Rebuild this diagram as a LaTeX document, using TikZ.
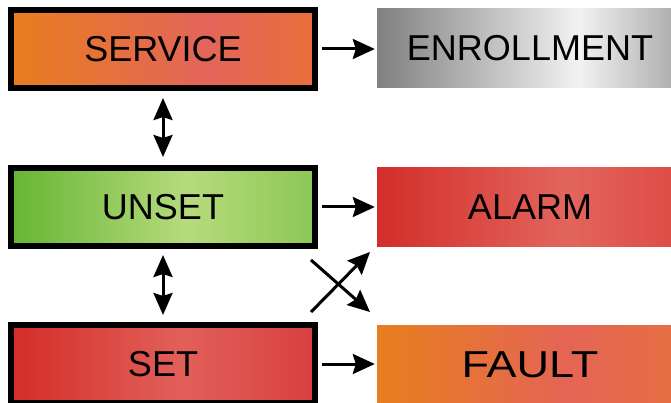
\documentclass[tikz,border=0pt]{standalone}
\usepackage{fontspec}
\setmainfont{Liberation Sans}
\usetikzlibrary{shapes,arrows,arrows.meta,positioning,calc}

\definecolor{svcA}{HTML}{E97D1F}
\definecolor{svcB}{HTML}{E3655A}
\definecolor{svcC}{HTML}{E8703A}
\definecolor{unsA}{HTML}{66B533}
\definecolor{unsB}{HTML}{B6DB7D}
\definecolor{unsC}{HTML}{8CC755}
\definecolor{setA}{HTML}{D42D28}
\definecolor{setB}{HTML}{E2605A}
\definecolor{setC}{HTML}{D8403F}
\definecolor{enrA}{HTML}{808080}
\definecolor{enrB}{HTML}{F2F2F2}
\definecolor{enrC}{HTML}{A8A8A8}
\definecolor{almA}{HTML}{D32E2B}
\definecolor{almB}{HTML}{E2655C}
\definecolor{almC}{HTML}{DD4A44}
\definecolor{fltA}{HTML}{E87E1E}
\definecolor{fltB}{HTML}{E46555}
\definecolor{fltC}{HTML}{E77041}

\pgfdeclarehorizontalshading{serviceshade}{100bp}{color(0bp)=(svcA); color(25bp)=(svcA); color(57bp)=(svcB); color(75bp)=(svcC); color(100bp)=(svcC)}
\pgfdeclarehorizontalshading{unsetshade}{100bp}{color(0bp)=(unsA); color(25bp)=(unsA); color(54bp)=(unsB); color(75bp)=(unsC); color(100bp)=(unsC)}
\pgfdeclarehorizontalshading{setshade}{100bp}{color(0bp)=(setA); color(25bp)=(setA); color(53bp)=(setB); color(75bp)=(setC); color(100bp)=(setC)}
\pgfdeclarehorizontalshading{enrollshade}{100bp}{color(0bp)=(enrA); color(25bp)=(enrA); color(58bp)=(enrB); color(75bp)=(enrC); color(100bp)=(enrC)}
\pgfdeclarehorizontalshading{alarmshade}{100bp}{color(0bp)=(almA); color(25bp)=(almA); color(56bp)=(almB); color(75bp)=(almC); color(100bp)=(almC)}
\pgfdeclarehorizontalshading{faultshade}{100bp}{color(0bp)=(fltA); color(25bp)=(fltA); color(56bp)=(fltB); color(75bp)=(fltC); color(100bp)=(fltC)}

\begin{document}
\begin{tikzpicture}[x=1pt, y=-1pt,
    statebox/.style={draw=black, line width=6pt, minimum width=304pt, minimum height=78pt, inner sep=0pt, font=\fontsize{36}{40}\selectfont},
    eventbox/.style={minimum width=306pt, minimum height=79pt, inner sep=0pt, font=\fontsize{36}{40}\selectfont},
    link/.style={line width=3pt, -{Stealth[length=22pt, width=20pt, inset=3pt]}},
    twoway/.style={line width=3pt, {Stealth[length=22pt, width=19pt, inset=3pt]}-{Stealth[length=22pt, width=19pt, inset=3pt]}}]
    \useasboundingbox (0,0) rectangle (671,403);
    \clip (0,0) rectangle (671,403);

    % States
    \node[statebox, shading=serviceshade] (service) at (163,49) {SERVICE};
    \node[statebox, shading=unsetshade] (unset) at (163,207) {UNSET};
    \node[statebox, shading=setshade] (set) at (163,364) {SET};

    % Events
    \node[eventbox, shading=enrollshade] (enroll) at (530,48.5) {ENROLLMENT};
    \node[eventbox, shading=alarmshade] (alarm) at (530,207) {ALARM};
    \node[eventbox, shading=faultshade, font=\fontsize{37.5}{42}\selectfont] (fault) at (530,364.5) {\scalebox{1.2}[1]{FAULT}};

    % Arrows
    \draw[link, shorten <=4pt, shorten >=2pt] (service.east) -- (service.east -| enroll.west);
    \draw[link, shorten <=4pt, shorten >=2pt] (unset.east) -- (alarm.west);
    \draw[link, shorten <=4pt, shorten >=2pt] (set.east) -- (set.east -| fault.west);
    \draw[twoway, shorten <=7pt, shorten >=8pt] (service.south) -- (unset.north);
    \draw[twoway, shorten <=6pt, shorten >=7pt] (unset.south) -- (set.north);

    % Cross
    \coordinate (crossA) at (311,260);
    \coordinate (crossB) at (370,312);
    \coordinate (crossC) at (311,312);
    \coordinate (crossD) at (370,252);
    \draw[link] (crossA) -- (crossB);
    \draw[link] (crossC) -- (crossD);
\end{tikzpicture}
\end{document}
